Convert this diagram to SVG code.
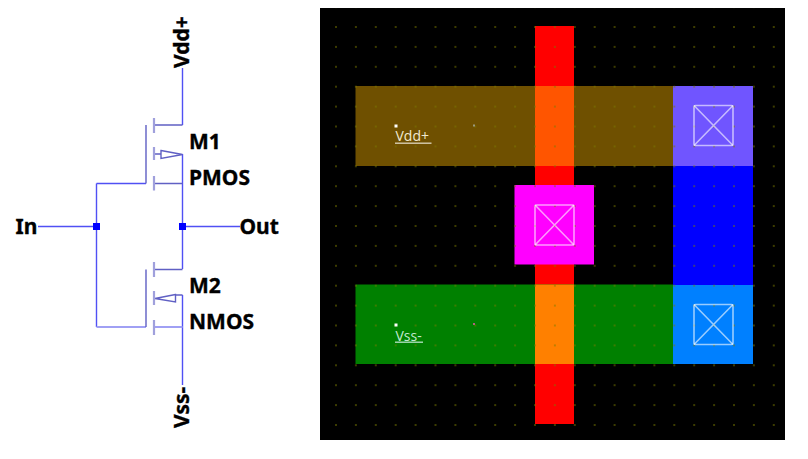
<svg xmlns="http://www.w3.org/2000/svg" width="808" height="459" viewBox="0 0 808 459">
<style>
.w{fill:none;stroke:#5050f4;stroke-width:1.4}
.m{fill:none;stroke:#6060c4;stroke-width:1.4}
.b{fill:none;stroke:#a0a0dc;stroke-width:2.200}
.lt{fill:none;stroke:#a0a0f4;stroke-width:2.200}
.j{fill:#0000ff}
.t{font-family:"Noto Sans","DejaVu Sans",sans-serif;font-weight:bold;font-size:21px;fill:#000;stroke:#000;stroke-width:.35}
.l{font-family:"Open Sans","DejaVu Sans",sans-serif;font-size:14px}
.c{fill:none;stroke:#fff;stroke-opacity:.6;stroke-width:1.600}
</style>
<defs>
<pattern id="grid" x="336" y="27" width="19.9" height="19.9" patternUnits="userSpaceOnUse"><rect x="-.7" y="-.7" width="1.400" height="1.400" fill="#7a7a00"/><rect x="19.200" y="-.7" width="1.400" height="1.400" fill="#7a7a00"/><rect x="-.7" y="19.200" width="1.400" height="1.400" fill="#7a7a00"/><rect x="19.200" y="19.200" width="1.400" height="1.400" fill="#7a7a00"/></pattern>
<g id="x"><rect x="0" y="0" width="39" height="40" rx="1.500" class="c"/><path d="M0 0L39 40M39 0L0 40" class="c"/></g>
</defs>
<rect width="808" height="459" fill="#fff"/>
<g id="connectors">
<path class="w" d="M182.500 68V125M182.500 154V226.500M38 226.500H96.500M182.500 226.500H240M96.500 183.500V327M96.500 183.500H146M182.500 226.500V269M182.500 295V385"/>
<path class="lt" d="M96.500 327H146M154 327H182.500"/>
</g>
<g id="M1">
<path class="m" d="M154 125H182.500M146 125V183.500M154 154H161M154 183.500H182.500"/>
<path class="m" d="M161 150.500L182.500 154.500L161 158.500Z"/>
<path class="b" d="M154 118V133M154 147V160M154 176V190.500"/>
<text class="t" x="189" y="149">M1</text>
<text class="t" x="189" y="185">PMOS</text>
</g>
<g id="M2">
<path class="m" d="M154 269.500H182.500M146 269.500V327M175.500 295H182.500"/>
<path class="m" d="M175.500 294.500L155 298.500L175.500 302Z"/>
<path class="b" d="M154 262V277M154 291V305M154 320V335"/>
<text class="t" x="189" y="293">M2</text>
<text class="t" x="189" y="329">NMOS</text>
</g>
<g id="n-in"><rect class="j" x="93" y="223" width="7" height="7"/><text class="t" x="15.500" y="234">In</text></g>
<g id="n-out"><rect class="j" x="179" y="223" width="7" height="7"/><text class="t" x="239.500" y="234">Out</text></g>
<g id="n-vdd"><text class="t" transform="translate(189 68) rotate(-90)">Vdd+</text></g>
<g id="n-vss"><text class="t" transform="translate(189 428) rotate(-90)">Vss-</text></g>
<g id="layout">
<rect x="320" y="8" width="465" height="432" fill="#000"/>
<rect x="535" y="26" width="39" height="398" fill="#f00"/>
<rect x="355.500" y="86" width="318" height="80" fill="#6f5000"/>
<rect x="535" y="86" width="39" height="80" fill="#ff5500"/>
<rect x="355.500" y="284.500" width="318" height="79.500" fill="#008000"/>
<rect x="535" y="284.500" width="39" height="79.500" fill="#ff8000"/>
<rect x="673" y="86" width="80" height="80" fill="#7055ff"/>
<rect x="673" y="166" width="80" height="119" fill="#0000ff"/>
<rect x="673" y="285" width="80" height="79" fill="#0080ff"/>
<rect x="514.500" y="185" width="79.500" height="79.500" fill="#ff00ff"/>
<rect x="320" y="8" width="465" height="432" fill="url(#grid)"/>
<use href="#x" x="694" y="105.500"/>
<use href="#x" x="535" y="205"/>
<use href="#x" x="694" y="304.500"/>
<rect x="394.500" y="124.500" width="3" height="3" fill="#fff"/>
<rect x="394.500" y="323.500" width="3" height="3" fill="#fff"/>
<rect x="473" y="124.500" width="2" height="2" fill="#9a9a80"/>
<rect x="473" y="323" width="2" height="2" fill="#b06080"/>
<text class="l" x="395.500" y="141" fill="#f0e8d0">Vdd+</text>
<rect x="395" y="142.500" width="36.500" height="1.400" fill="#d8ccb0"/>
<text class="l" x="395.500" y="340.500" fill="#c0e8d0">Vss-</text>
<rect x="395" y="341.500" width="28" height="1.400" fill="#a8dcb8"/>
</g>
</svg>
